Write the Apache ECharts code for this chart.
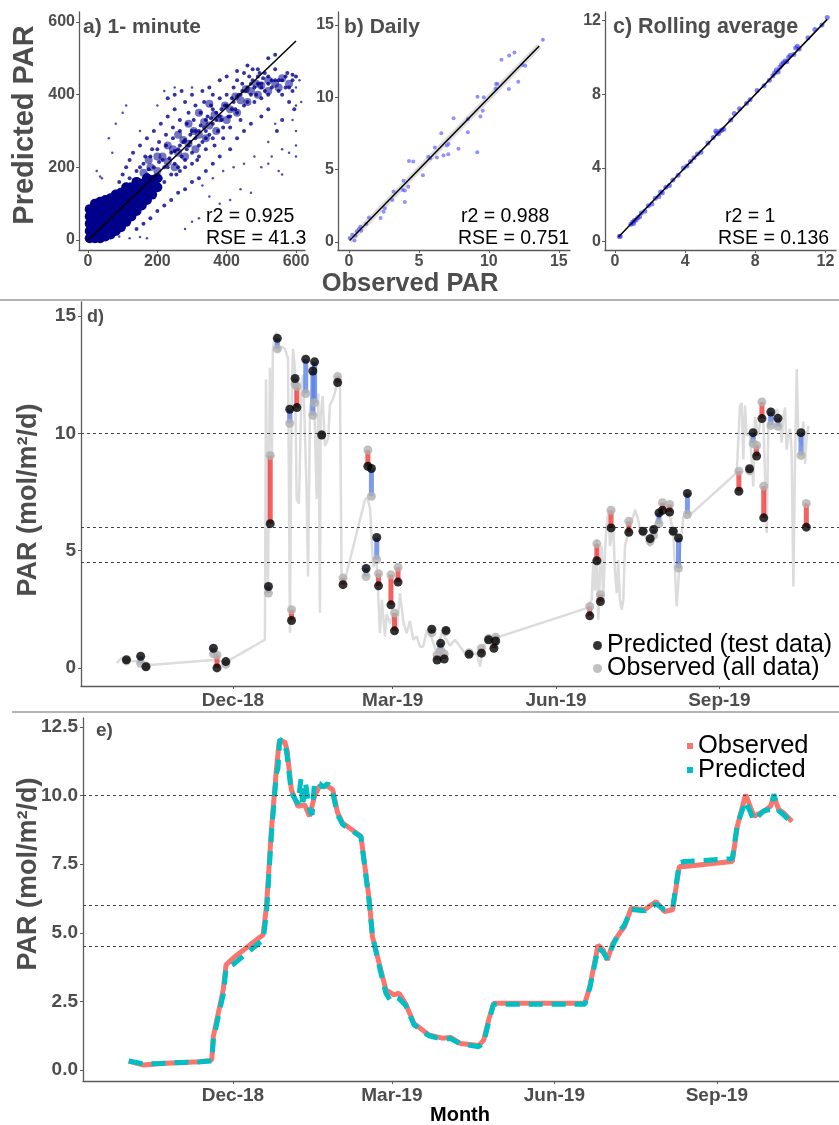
<!DOCTYPE html>
<html>
<head>
<meta charset="utf-8">
<script src="https://cdn.jsdelivr.net/npm/echarts@6/dist/echarts.min.js"></script>
<style>
  html, body { margin: 0; padding: 0; background: #fff; }
  #chart { width: 839px; height: 1125px; }
</style>
</head>
<body>
<div id="chart"></div>
<script>
// a) 1-minute: observed vs predicted PAR (hand-read cloud)
const aDense = [[5,5],[5,25],[5,45],[5,65],[5,85],[20,5],[20,25],[20,45],[20,65],[20,85],[20,100],[35,5],[35,25],[35,45],[35,65],[35,85],[35,105],
  [50,10],[50,30],[50,50],[50,70],[50,90],[50,110],[65,15],[65,35],[65,55],[65,75],[65,95],[65,115],[80,25],[80,45],[80,65],[80,85],[80,105],
  [80,125],[95,35],[95,55],[95,75],[95,95],[95,115],[95,130],[110,50],[110,70],[110,90],[110,110],[110,130],[110,145],[125,65],[125,85],
  [125,105],[125,125],[125,145],[140,80],[140,100],[140,120],[140,140],[140,160],[155,95],[155,115],[155,135],[155,155],[170,110],[170,130],
  [170,150],[170,170],[185,125],[185,145],[185,165],[200,145],[200,170],[12,15],[28,55],[42,18],[58,62],[72,88],[88,48],[102,100],[118,80]];
const aBand = [[180,200],[200,190],[215,230],[230,215],[245,250],[260,240],[275,275],[290,265],[305,300],[320,290],[335,325],[350,315],
  [365,345],[380,335],[395,370],[410,360],[425,395],[440,385],[455,415],[470,410],[485,430],[500,425],[520,440],[540,430],[560,445],
  [200,230],[230,260],[260,290],[290,320],[320,350],[350,375],[250,200],[280,230],[310,250],[340,280],[370,300],[400,330],[430,350],
  [460,380],[490,400],[520,410],[550,420],[580,430],[160,185],[175,220]];
const aMid = [[120,170],[140,190],[160,210],[170,180],[180,230],[190,200],[200,250],[210,170],[215,220],[225,260],[230,200],[240,240],[245,280],
  [250,210],[255,180],[260,250],[265,300],[270,230],[275,270],[280,200],[285,320],[290,260],[295,290],[300,240],[305,330],[310,280],[315,220],
  [320,300],[325,350],[330,270],[335,310],[340,250],[345,340],[350,290],[355,370],[360,320],[365,260],[370,350],[375,300],[380,390],[385,330],
  [390,280],[395,370],[400,400],[405,340],[410,310],[415,390],[420,420],[425,360],[430,440],[435,400],[440,330],[445,430],[450,460],[455,410],
  [460,380],[465,450],[470,430],[475,470],[480,420],[485,400],[490,450],[495,460],[500,430],[510,410],[520,450],[530,420],[540,470],[550,440],
  [560,400],[570,450],[580,420],[590,440],[600,450],[595,360],[580,380],[560,330],[545,300],[520,360],[500,340],[470,320],[450,300],[430,280],
  [410,250],[380,230],[360,210],[340,190],[320,170],[300,160],[280,140],[260,130],[240,110],[220,95],[200,80],[180,60],[160,45],[140,30],
  [90,160],[100,180],[110,200],[120,220],[130,240],[150,260],[170,280],[190,300],[210,320],[230,340],[250,360],[280,380],[300,400],[330,410],
  [270,410],[250,400],[230,390],[350,420],[380,440],[400,450],[430,465],[460,480],[490,470],[520,500],[540,510],[265,190],[285,250],[300,300],
  [320,260],[340,330],[360,360],[380,340],[420,380],[440,400],[470,400],[500,420],[510,460],[530,440],
  [160,160],[175,195],[190,175],[205,215],[220,200],[235,225],[250,245],[265,260],[280,275],[295,270],[310,300],[325,315],[340,300],[355,335],
  [370,330],[385,360],[400,370],[415,360],[430,395],[445,410],[460,420],[475,440],[490,430],[505,445],[520,430],[540,440],[560,440],[575,460],
  [590,455],[150,200],[165,230],[185,250],[205,270],[225,290],[245,310],[265,330],[290,350],[310,370],[335,380],[360,400],[200,140],[220,160],
  [240,180],[260,200],[280,220],[300,210],[320,230],[340,280],[360,280],[390,310],[410,340],[430,350],[450,370],[480,380],[500,390],[520,400],
  [550,410],[570,420],[590,410]];
const aSparse = [[100,350],[110,370],[60,280],[70,240],[80,320],[150,300],[200,370],[220,410],[250,420],[300,420],[90,10],[120,5],[150,8],
  [170,5],[420,200],[450,210],[480,230],[500,200],[520,210],[550,190],[560,250],[580,240],[600,230],[600,260],[470,130],[440,140],[410,110],
  [380,100],[350,120],[330,150],[520,270],[540,320],[600,300],[600,370],[590,330],[35,175],[25,190],[40,170],[300,50],[320,60],[280,30],
  [600,420],[610,440],[615,380],[530,230],[560,180],[390,190],[360,170]];
const aFit = [[0,0],[600,548]];

// b) daily
const bPoints = [[0.05,0.28],[0.24,0.5],[0.4,0.1],[0.48,0.44],[0.57,0.74],[0.71,0.9],[0.81,1.06],[0.88,0.78],[1.24,1.24],[1.43,1.7],
  [2.26,1.66],[2.48,2.1],[2.57,2.34],[3.1,2.9],[3.19,3.5],[3.86,3.59],[3.9,4.23],[4,3.56],[4,2.76],[4.24,3.82],[4.29,5.61],[4.6,5.56],
  [5.29,4.62],[5.67,5.9],[5.81,5.8],[6.14,6.53],[6.29,5.84],[6.6,7.52],[6.76,5.98],[7,6.67],[7.1,6.07],[7.12,6.78],[7.48,8.56],[7.83,6.44],
  [8.5,8.51],[8.5,7.59],[9.19,10.05],[9.17,6.21],[9.4,8.67],[9.57,9.08],[9.64,10.0],[10.48,10.62],[10.52,10.92],[10.6,10.94],[10.9,12.6],
  [11.45,12.9],[11.83,13.1],[11.43,10.57],[12.1,11.08],[12.4,12.23],[12.6,12.18],[13.86,13.98]];
const bFit = [[0.05,0.1],[13.6,13.55]];

// c) rolling average
const cPoints = [[0.25,0.28],[0.3,0.3],[0.9,0.95],[1.0,1.05],[1.05,0.98],[1.1,1.15],[1.2,1.18],[1.3,1.3],[1.4,1.35],[1.5,1.55],[1.7,1.65],
  [1.9,1.95],[2.1,2.05],[2.3,2.35],[2.5,2.45],[2.6,2.7],[2.7,2.65],[2.9,2.95],[3.1,3.05],[3.3,3.35],[3.6,3.6],[3.9,4.0],[4.1,4.1],[4.3,4.35],
  [4.5,4.55],[4.7,4.75],[4.9,4.85],[5.3,5.35],[5.6,5.65],[5.75,6.0],[5.8,5.9],[5.9,5.85],[6.0,6.0],[6.1,6.05],[6.2,6.1],[6.6,6.6],[6.8,6.95],
  [7.1,7.2],[7.5,7.5],[7.7,7.7],[8.1,8.2],[8.5,8.45],[8.8,8.75],[9.0,9.0],[9.1,9.15],[9.2,9.3],[9.3,9.2],[9.4,9.45],[9.5,9.6],[9.6,9.7],
  [9.7,9.8],[9.8,9.75],[9.9,10.0],[10.0,10.1],[10.2,10.15],[10.3,10.5],[10.4,10.6],[10.5,10.45],[11.0,11.05],[11.4,11.5],[11.8,11.75],[12.1,12.15]];
const cFit = [[0.2,0.25],[12.1,12.05]];

// d) daily PAR; x = days since 1 Dec 2018
const testDay  = [-60,-52,-49,-11,-9,-4,20,21,25,32,33,35,36,41,45,46,50,59,62,75,76,78,81,82,89,91,93,112,115,117,119,120,133,140,144,147,148,
  201,205,207,213,223,231,235,237,240,242,246,248,251,256,285,291,293,295,298,299,303,307,320,323];
const testPred = [0.35,0.5,0.05,0.84,0.0,0.27,3.47,6.15,14.05,11.03,2.02,12.34,11.1,13.16,12.66,13.05,9.93,12.17,3.55,4.24,8.6,8.5,5.56,3.5,2.69,
  1.58,3.66,1.65,0.34,1.05,0.38,1.6,0.58,0.63,1.2,0.84,1.15,2.22,4.57,2.83,5.97,5.78,5.83,5.51,5.9,6.61,6.72,6.65,5.83,5.54,7.44,7.53,8.49,
  10.03,9.03,10.63,6.4,10.91,10.64,10.03,6.0];
const testObs  = [0.3,0.2,0.08,0.6,0.55,0.15,3.19,9.06,13.6,10.43,2.48,12.1,12.0,11.7,10.77,11.3,9.95,12.42,3.83,3.9,9.29,7.32,4.62,4.02,3.97,
  2.34,4.29,1.5,0.55,0.77,0.6,1.55,0.65,0.84,1.25,1.1,1.31,2.62,5.29,3.12,6.72,6.25,5.8,5.4,5.65,6.15,7.04,6.97,5.8,4.26,6.54,8.39,8.4,
  9.57,9.49,11.34,7.75,10.34,10.3,9.06,7.01];
const obsAllD = [[-65.5,0.2],[-62.7,0.43],[-60.3,0.35],[-56.3,0.3],[-52.4,0.25],[-49.6,0.1],[-46.8,0.13],[-11.3,0.34],[-3.5,0.27],[18,1.2],
  [18.6,12.3],[19.7,3.3],[20.8,12.8],[22,9],[22.5,13.6],[24.2,14.3],[25.4,13.5],[27.4,13.7],[29.3,13.6],[31,13.2],[32.1,1.5],[33,11],
  [33.8,13.6],[34.9,12.8],[35.9,7.2],[37.2,7.0],[38.7,12.2],[39.6,12.5],[41.5,7.5],[42.3,3.9],[43.4,11],[44.3,11.6],[45.2,13.0],[47.2,7.2],
  [48.1,11.7],[49,2.35],[49.4,10.7],[50.5,11.6],[51.8,9.46],[53.7,9.8],[54.6,11.2],[56.5,11.5],[58.4,12.0],[59.3,12.45],[60.3,12.0],
  [61.2,3.9],[63.1,3.76],[74.4,7.18],[75.7,7.25],[77.2,6.8],[79,4.33],[81,4.5],[82.8,1.48],[83.9,2.9],[85.6,1.34],[86.6,2.3],[88.5,1.9],
  [90.3,2.3],[92.2,1.48],[94.1,3.19],[96,1.95],[97.9,1.48],[99.7,2.0],[101.6,1.2],[103.5,1.34],[105.4,0.9],[107.2,0.91],[109.1,1.6],
  [111,1.5],[114.8,0.63],[117.6,1.5],[120.4,1.2],[122.3,0.95],[125.1,1.2],[127.9,0.91],[130.7,0.63],[133.5,0.55],[137.3,0.63],[139.2,0.06],
  [141,0.9],[143.8,1.2],[147.6,1.27],[199.3,2.55],[202.1,2.9],[203,4.6],[203.9,3.3],[204.9,5.47],[205.8,2.05],[206.8,4.1],[207.7,5.2],
  [208.6,2.9],[209.6,5.04],[210.5,6.04],[211.4,6.7],[212.4,5.2],[214.2,6.1],[215.2,4.1],[216.2,3.19],[217,4.6],[218,2.9],[219,2.48],
  [219.9,2.9],[220.8,5.18],[221.8,5.5],[223.7,6.1],[225.5,6.47],[226.5,6.75],[228.3,6.3],[229.3,5.9],[231.1,5.75],[233.1,5.5],[234.9,5.18],
  [236.8,5.75],[238.7,6.3],[240.6,6.47],[242.4,7.04],[244.3,6.6],[246.2,6.47],[248.1,5.75],[249.9,2.62],[250.9,3.6],[251.8,4.9],[253.7,6.47],
  [255.6,6.4],[283.8,8.32],[285.6,11.17],[286.6,11.3],[287.5,8.89],[288.5,11.2],[289.4,9.9],[291.3,10.0],[293.1,7.75],[294.1,10.7],
  [296,9.9],[296.9,10.5],[298.8,10.5],[300.7,5.75],[301.6,10.4],[302.5,11.1],[304.4,10.5],[306.3,11.03],[308.2,10.5],[309.1,9.6],[310,10.7],
  [311,11.1],[311.9,9.3],[312.8,9.9],[313.8,10.2],[314.7,9.3],[315.7,3.47],[316.6,8.7],[317.6,12.74],[318.5,9.8],[319.4,9.8],[320.4,9.5],
  [321.3,10.5],[322.3,8.7],[323.2,9.9],[324.2,10.31]];

// e) rolling average
const obsE = [[-59,0.33],[-50.5,0.18],[-41,0.24],[-18.6,0.3],[-12,0.36],[-11.1,1.22],[-8.3,2.07],[-5.5,2.92],[-3.9,3.83],[0.2,4.08],
  [17.1,4.93],[19,5.96],[21.8,8.76],[24.6,10.95],[26.1,11.92],[29.3,11.98],[30.6,11.68],[33.1,10.22],[36.8,9.61],[40.6,9.67],[43.4,9.25],
  [46.2,9.98],[49,10.34],[53.7,10.34],[56.5,10.22],[59.3,9.37],[62.1,9.0],[72.5,8.52],[77.2,6.2],[79,4.86],[82.8,3.89],[86.6,2.92],
  [91.3,2.74],[94.1,2.8],[97.9,2.4],[102.5,1.7],[111,1.28],[118.5,1.16],[123.2,1.19],[128.8,0.97],[139.2,0.89],[142,1.09],[144.8,1.82],
  [147.6,2.43],[199.3,2.43],[202.1,3.04],[206.8,4.56],[209.6,4.38],[212,4.01],[215.2,4.62],[219,4.99],[221.8,5.23],[225.5,5.9],[233.1,5.84],
  [239.6,6.14],[244.3,5.78],[249,5.84],[252.8,7.42],[255.6,7.42],[282.8,7.6],[285.6,8.88],[290.3,10.04],[295,9.25],[300.7,9.43],
  [304.4,9.61],[306.3,9.98],[309.1,9.49],[311.9,9.37],[316.6,9.06]];
const predE = [[-59,0.33],[-50.5,0.22],[-41,0.24],[-18.6,0.3],[-12,0.33],[-11.1,1.1],[-8.3,1.95],[-5.5,2.75],[-3.9,3.7],[0.2,3.85],
  [17.1,4.75],[19,5.7],[21.8,8.6],[24.6,10.8],[25.5,11.0],[26.5,12.05],[29.3,11.95],[30.6,11.5],[33.1,10.1],[36.8,9.7],[38.5,10.6],
  [39.5,9.6],[41,10.5],[43.4,9.5],[44.8,9.3],[46.2,10.5],[49,10.45],[51,10.3],[53.7,10.45],[56.5,10.1],[59.3,9.3],[62.1,8.95],[72.5,8.5],
  [77.2,6.1],[79,4.9],[82.8,3.8],[86.6,2.8],[89,2.55],[91.3,2.65],[94.1,2.6],[97.9,2.35],[102.5,1.65],[111,1.25],[118.5,1.12],[123.2,1.15],
  [128.8,0.95],[139.2,0.85],[142,1.0],[144.8,1.75],[147.6,2.4],[199.3,2.4],[202.1,3.0],[206.8,4.45],[209.6,4.3],[212,4.05],[215.2,4.55],
  [219,5.05],[221.8,5.3],[225.5,5.85],[233.1,5.8],[239.6,6.05],[244.3,5.85],[249,5.9],[252.8,7.55],[255.6,7.6],[282.8,7.7],[285.6,8.95],
  [290.3,9.8],[295,9.1],[300.7,9.45],[304.4,9.5],[306.3,10.05],[309.1,9.45],[311.9,9.3],[316.6,9.0]];

// ticks / reference lines
const aTicks = [0, 200, 400, 600];
const bTicks = [0, 5, 10, 15];
const cTicks = [0, 4, 8, 12];
const dYTicks = [0, 5, 10, 15];
const eYTicks = [0, 2.5, 5, 7.5, 10, 12.5];
const monthTicks = [0, 90, 182, 274];
const monthLabels = ['Dec-18', 'Mar-19', 'Jun-19', 'Sep-19'];
const refLines = [4.5, 6, 10];

const FONT = 'Liberation Sans, Arial, sans-serif';
const axisGrey = '#5a5a5a';
const labelGrey = '#4d4d4d';

function axis(idx, min, max, ticks, opts) {
  opts = opts || {};
  return {
    type: 'value', gridIndex: idx, min: min, max: max,
    axisLine: { show: true, onZero: false, lineStyle: { color: axisGrey, width: 1.3 } },
    axisTick: { show: true, length: 3, customValues: ticks, lineStyle: { color: axisGrey } },
    axisLabel: {
      customValues: ticks, color: labelGrey, fontWeight: 'bold', fontFamily: FONT,
      fontSize: opts.fontSize || 16, margin: opts.margin || 4, formatter: opts.formatter
    },
    splitLine: { show: false }
  };
}
const monthFmt = v => monthLabels[monthTicks.indexOf(v)] || '';

const chart = echarts.init(document.getElementById('chart'), null, { renderer: 'canvas' });

const option = {
  animation: false,
  backgroundColor: '#fff',
  grid: [
    { left: 79, top: 12, width: 226, height: 238 },
    { left: 338, top: 12, width: 232, height: 238 },
    { left: 605, top: 12, width: 231, height: 238 },
    { left: 81, top: 302, width: 758, height: 384 },
    { left: 83, top: 718, width: 756, height: 363 }
  ],
  xAxis: [
    axis(0, -26, 626, aTicks),
    axis(1, -0.78, 15.8, bTicks),
    axis(2, -0.57, 12.6, cTicks),
    axis(3, -85.6, 341.4, monthTicks, { fontSize: 19, margin: 5, formatter: monthFmt }),
    axis(4, -84.9, 343.2, monthTicks, { fontSize: 19, margin: 5, formatter: monthFmt })
  ],
  yAxis: [
    axis(0, -27.5, 627.6, aTicks),
    axis(1, -0.55, 15.9, bTicks),
    axis(2, -0.45, 12.45, cTicks),
    axis(3, -0.77, 15.6, dYTicks, { fontSize: 19, margin: 5 }),
    axis(4, -0.4, 12.83, eYTicks, { fontSize: 19, margin: 5, formatter: v => v.toFixed(1) })
  ],
  legend: [
    {
      data: ['Predicted (test data)', 'Observed (all data)'],
      orient: 'vertical', left: 588, top: 628, itemGap: -2, itemWidth: 9, itemHeight: 9,
      icon: 'circle', textStyle: { fontSize: 25, color: '#000', fontFamily: FONT }
    },
    {
      data: ['Observed', 'Predicted'],
      orient: 'vertical', left: 682, top: 728, itemGap: -2, itemWidth: 6, itemHeight: 6,
      icon: 'rect', textStyle: { fontSize: 25.5, color: '#000', fontFamily: FONT }
    }
  ],
  series: [
    // a
    { type: 'scatter', xAxisIndex: 0, yAxisIndex: 0, data: aBand, symbolSize: 8, itemStyle: { color: '#00008b', opacity: 0.55 } },
    { type: 'scatter', xAxisIndex: 0, yAxisIndex: 0, data: aDense, symbolSize: 10, itemStyle: { color: '#00008b', opacity: 1 } },
    { type: 'scatter', xAxisIndex: 0, yAxisIndex: 0, data: aMid, symbolSize: 4, itemStyle: { color: '#00008b', opacity: 0.8 } },
    { type: 'scatter', xAxisIndex: 0, yAxisIndex: 0, data: aSparse, symbolSize: 2.5, itemStyle: { color: '#00008b', opacity: 0.7 } },
    { type: 'line', xAxisIndex: 0, yAxisIndex: 0, data: aFit, symbol: 'none', lineStyle: { color: '#000', width: 1.5 }, z: 5 },
    // b
    { type: 'line', xAxisIndex: 1, yAxisIndex: 1, data: bFit, symbol: 'none', lineStyle: { color: '#cfcfcf', width: 6, opacity: 0.7 }, z: 1 },
    { type: 'scatter', xAxisIndex: 1, yAxisIndex: 1, data: bPoints, symbolSize: 4, itemStyle: { color: '#6363ff', opacity: 0.7 }, z: 3 },
    { type: 'line', xAxisIndex: 1, yAxisIndex: 1, data: bFit, symbol: 'none', lineStyle: { color: '#000', width: 1.5 }, z: 4 },
    // c
    { type: 'scatter', xAxisIndex: 2, yAxisIndex: 2, data: cPoints, symbolSize: 5, itemStyle: { color: '#2a2aff', opacity: 0.6 } },
    { type: 'line', xAxisIndex: 2, yAxisIndex: 2, data: cFit, symbol: 'none', lineStyle: { color: '#000', width: 1.5 }, z: 4 },
    // d
    {
      type: 'line', xAxisIndex: 3, yAxisIndex: 3, data: obsAllD, symbol: 'none', z: 1,
      lineStyle: { color: '#dcdcdc', width: 2.5 },
      markLine: {
        silent: true, symbol: 'none', label: { show: false },
        lineStyle: { color: '#444', type: [3, 3], width: 1 },
        data: refLines.map(v => ({ yAxis: v }))
      }
    },
    {
      type: 'custom', xAxisIndex: 3, yAxisIndex: 3, z: 3,
      data: testDay.map((d, i) => [d, testPred[i], testObs[i]]),
      encode: { x: 0, y: [1, 2] },
      renderItem: (params, api) => {
        const p1 = api.coord([api.value(0), api.value(1)]);
        const p2 = api.coord([api.value(0), api.value(2)]);
        const under = api.value(1) < api.value(2);
        return {
          type: 'line',
          shape: { x1: p1[0], y1: p1[1], x2: p2[0], y2: p2[1] },
          style: { stroke: under ? '#f03a3a' : '#5b82e6', lineWidth: 5, opacity: 0.8 }
        };
      }
    },
    {
      name: 'Observed (all data)', type: 'scatter', xAxisIndex: 3, yAxisIndex: 3, z: 4,
      data: testDay.map((d, i) => [d, testObs[i]]), symbolSize: 9, itemStyle: { color: '#b0b0b0' }
    },
    {
      name: 'Predicted (test data)', type: 'scatter', xAxisIndex: 3, yAxisIndex: 3, z: 5,
      data: testDay.map((d, i) => [d, testPred[i]]), symbolSize: 9, itemStyle: { color: '#000' }
    },
    // e
    {
      name: 'Observed', type: 'line', xAxisIndex: 4, yAxisIndex: 4, data: obsE, symbol: 'none', z: 2,
      itemStyle: { color: '#f8766d' }, lineStyle: { color: '#f8766d', width: 5 },
      markLine: {
        silent: true, symbol: 'none', label: { show: false },
        lineStyle: { color: '#444', type: [3, 3], width: 1 },
        data: refLines.map(v => ({ yAxis: v }))
      }
    },
    {
      name: 'Predicted', type: 'line', xAxisIndex: 4, yAxisIndex: 4, data: predE, symbol: 'none', z: 3,
      itemStyle: { color: '#00bfc4' }, lineStyle: { color: '#00bfc4', width: 5, type: [14, 9] }
    }
  ],
  graphic: [
    { type: 'line', shape: { x1: 0, y1: 300, x2: 839, y2: 300 }, style: { stroke: '#9a9a9a', lineWidth: 1.5 } },
    { type: 'line', shape: { x1: 12, y1: 712, x2: 839, y2: 712 }, style: { stroke: '#9a9a9a', lineWidth: 1.5 } },
    { type: 'text', x: 25, y: 125, rotation: Math.PI / 2,
      style: { text: 'Predicted PAR', font: 'bold 29px ' + FONT, fill: labelGrey, textAlign: 'center', textVerticalAlign: 'middle' } },
    { type: 'text', x: 410, y: 284,
      style: { text: 'Observed PAR', font: 'bold 25.5px ' + FONT, fill: labelGrey, textAlign: 'center', textVerticalAlign: 'middle' } },
    { type: 'text', x: 83, y: 27, style: { text: 'a) 1- minute', font: 'bold 21px ' + FONT, fill: labelGrey, textVerticalAlign: 'middle' } },
    { type: 'text', x: 344, y: 27, style: { text: 'b) Daily', font: 'bold 21px ' + FONT, fill: labelGrey, textVerticalAlign: 'middle' } },
    { type: 'text', x: 613, y: 27, style: { text: 'c) Rolling average', font: 'bold 21.5px ' + FONT, fill: labelGrey, textVerticalAlign: 'middle' } },
    { type: 'text', x: 206, y: 217, style: { text: 'r2 = 0.925', font: '19.5px ' + FONT, fill: '#000', textVerticalAlign: 'middle' } },
    { type: 'text', x: 206, y: 239, style: { text: 'RSE = 41.3', font: '19.5px ' + FONT, fill: '#000', textVerticalAlign: 'middle' } },
    { type: 'text', x: 461, y: 217, style: { text: 'r2 = 0.988', font: '19.5px ' + FONT, fill: '#000', textVerticalAlign: 'middle' } },
    { type: 'text', x: 458, y: 239, style: { text: 'RSE = 0.751', font: '19.5px ' + FONT, fill: '#000', textVerticalAlign: 'middle' } },
    { type: 'text', x: 725, y: 217, style: { text: 'r2 = 1', font: '19.5px ' + FONT, fill: '#000', textVerticalAlign: 'middle' } },
    { type: 'text', x: 718, y: 239, style: { text: 'RSE = 0.136', font: '19.5px ' + FONT, fill: '#000', textVerticalAlign: 'middle' } },
    { type: 'text', x: 87, y: 317, style: { text: 'd)', font: 'bold 18px ' + FONT, fill: labelGrey, textVerticalAlign: 'middle' } },
    { type: 'text', x: 96, y: 731, style: { text: 'e)', font: 'bold 19px ' + FONT, fill: labelGrey, textVerticalAlign: 'middle' } },
    { type: 'text', x: 29, y: 500, rotation: Math.PI / 2,
      style: { text: 'PAR (mol/m²/d)', font: 'bold 27px ' + FONT, fill: labelGrey, textAlign: 'center', textVerticalAlign: 'middle' } },
    { type: 'text', x: 29, y: 874, rotation: Math.PI / 2,
      style: { text: 'PAR (mol/m²/d)', font: 'bold 27px ' + FONT, fill: labelGrey, textAlign: 'center', textVerticalAlign: 'middle' } },
    { type: 'text', x: 460, y: 1115,
      style: { text: 'Month', font: 'bold 20px ' + FONT, fill: '#000', textAlign: 'center', textVerticalAlign: 'middle' } }
  ]
};

chart.setOption(option);
</script>
</body>
</html>
